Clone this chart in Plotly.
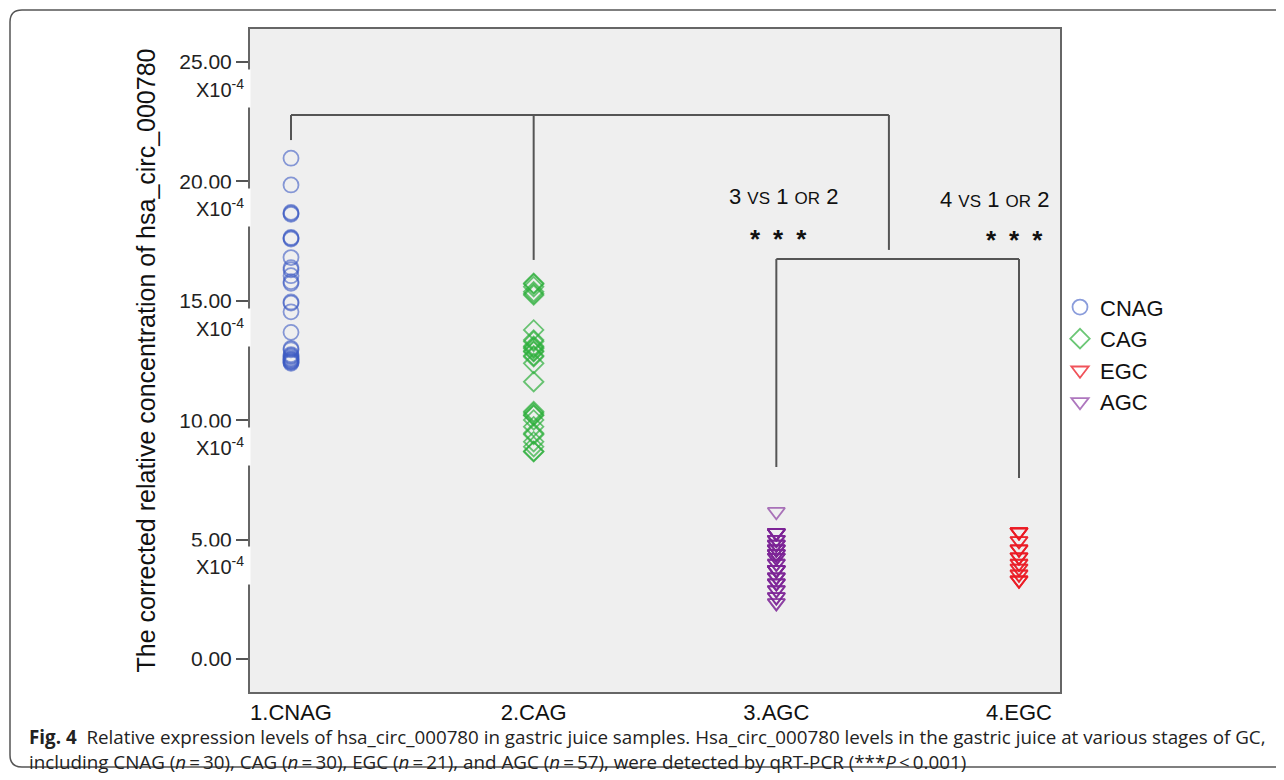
import plotly.graph_objects as go

# ---------------- data ----------------
groups = ["CNAG", "CAG", "EGC", "AGC"]
group_pos = {"CNAG": 1, "CAG": 2, "AGC": 3, "EGC": 4}
tick_labels = ["1.CNAG", "2.CAG", "3.AGC", "4.EGC"]

cnag = [20.97, 19.85, 18.70, 18.62, 18.66, 17.65, 17.58, 17.62, 16.81, 16.39,
        16.30, 16.05, 15.73, 15.80, 14.90, 14.95, 14.54, 13.68, 13.01, 12.95,
        12.66, 12.70, 12.52, 12.45, 12.38, 12.60, 12.55, 12.48, 12.42, 12.75]
cag = [15.73, 15.59, 15.38, 15.24, 15.70, 15.30,
       13.78, 13.36, 13.05, 12.87, 12.66, 12.38, 11.61, 13.30, 13.00, 12.90, 12.70, 13.10,
       10.36, 10.22, 10.01, 9.73, 9.45, 9.10, 8.89, 8.68, 10.30, 10.20, 9.40, 8.70]
agc = [6.17,
       5.28, 5.28, 5.28, 5.28, 5.28, 5.28, 5.28, 5.28,
       5.00, 5.00, 5.00, 5.00,
       4.80, 4.80, 4.80, 4.80,
       4.60, 4.60, 4.60, 4.60, 4.60,
       4.40, 4.40, 4.40, 4.40, 4.40,
       4.25, 4.25, 4.25, 4.25,
       4.00, 4.00, 4.00,
       3.73, 3.73, 3.73, 3.73, 3.73, 3.73, 3.73,
       3.43, 3.43, 3.43, 3.43,
       3.18, 3.18, 3.18, 3.18,
       2.89, 2.89, 2.89,
       2.60, 2.60, 2.60,
       2.35, 2.35]
egc = [5.32, 5.32, 5.32, 5.32, 4.95, 4.95, 4.60, 4.60, 4.60, 4.27,
       4.27, 4.27, 4.00, 4.00, 3.80, 3.80, 3.55, 3.55, 3.30, 3.30, 3.30]
values = {"CNAG": cnag, "CAG": cag, "EGC": egc, "AGC": agc}

y_tick_vals = [0, 5, 10, 15, 20, 25]
y_tick_text = ["0.00", "5.00", "10.00", "15.00", "20.00", "25.00"]

# ---------------- styles ----------------
symbols = {"CNAG": "circle-open", "CAG": "diamond-open",
           "EGC": "triangle-down-open", "AGC": "triangle-down-open"}
colors = {"CNAG": "rgba(60,90,195,0.6)", "CAG": "rgba(45,175,60,0.7)",
          "EGC": "rgba(235,25,35,0.75)", "AGC": "rgba(125,35,150,0.62)"}
sizes = {"CNAG": 15, "CAG": 15, "EGC": 15, "AGC": 15}

FONT = "Liberation Sans, Arial, sans-serif"

fig = go.Figure()
for g in groups:
    fig.add_trace(go.Scatter(
        x=[group_pos[g]] * len(values[g]), y=values[g], mode="markers", name=g,
        marker=dict(symbol=symbols[g], size=sizes[g],
                    color=colors[g], line=dict(color=colors[g], width=1.8)),
    ))

# ---------------- brackets ----------------
line_style = dict(color="#555555", width=2)
top_y = 22.78
mid_x = 3.464
low_y = 16.75
bracket_segments = [
    (1, top_y, mid_x, top_y),
    (1, top_y, 1, 21.73),
    (2, top_y, 2, 16.71),
    (mid_x, top_y, mid_x, 17.13),
    (3, low_y, 4, low_y),
    (3, low_y, 3, 8.04),
    (4, low_y, 4, 7.58),
]
for x0, y0, x1, y1 in bracket_segments:
    fig.add_shape(type="line", xref="x", yref="y", x0=x0, y0=y0, x1=x1, y1=y1,
                  line=line_style, layer="above")

sc = "<span style='font-size:17px'>"
fig.add_annotation(x=3.03, y=19.35, xref="x", yref="y", showarrow=False,
                   text=f"3 {sc}VS</span> 1 {sc}OR</span> 2",
                   font=dict(family=FONT, size=22, color="#111"))
fig.add_annotation(x=3.90, y=19.25, xref="x", yref="y", showarrow=False,
                   text=f"4 {sc}VS</span> 1 {sc}OR</span> 2",
                   font=dict(family=FONT, size=22, color="#111"))
fig.add_annotation(x=3.008, y=17.6, xref="x", yref="y", showarrow=False,
                   text="<b>*\u2002*\u2002*</b>", font=dict(family=FONT, size=26, color="#111"))
fig.add_annotation(x=3.98, y=17.55, xref="x", yref="y", showarrow=False,
                   text="<b>*\u2002*\u2002*</b>", font=dict(family=FONT, size=26, color="#111"))

# X10^-4 under tick labels
for v in y_tick_vals[1:]:
    fig.add_annotation(x=0, xref="paper", xanchor="right", xshift=1,
                       y=v - 1.1, yref="y", showarrow=False,
                       text="X10<sup>-4</sup>", bgcolor="white", borderpad=6,
                       font=dict(family=FONT, size=20, color="#222"))

# caption
ts = "\u2009=\u2009"
fig.add_annotation(x=-0.2753, y=-0.0679, xref="paper", yref="paper", xanchor="left",
                   yanchor="middle", showarrow=False, align="left",
                   text="<b>Fig. 4</b>  Relative expression levels of hsa_circ_000780 in gastric juice samples. "
                        "Hsa_circ_000780 levels in the gastric juice at various stages of GC,",
                   font=dict(family="Open Sans", size=18.8, color="#222"))
fig.add_annotation(x=-0.2753, y=-0.1056, xref="paper", yref="paper", xanchor="left",
                   yanchor="middle", showarrow=False, align="left",
                   text=f"including CNAG (<i>n</i>{ts}30), CAG (<i>n</i>{ts}30), EGC (<i>n</i>{ts}21), "
                        f"and AGC (<i>n</i>{ts}57), were detected by qRT-PCR (***<i>P</i>\u2009&lt;\u20090.001)",
                   font=dict(family="Open Sans", size=18.8, color="#222"))

# outer rounded frame
x0, x1 = -0.2963, 1.30
y0, y1 = -0.1131, 1.0287
rx, ry = 0.0148, 0.0181
path = (f"M {x1},{y1} L {x0+rx},{y1} Q {x0},{y1} {x0},{y1-ry} "
        f"L {x0},{y0+ry} Q {x0},{y0} {x0+rx},{y0} L {x1},{y0}")
fig.add_shape(type="path", xref="paper", yref="paper", path=path,
              line=dict(color="#555555", width=1.5), layer="below")

fig.update_layout(
    width=1284, height=780,
    margin=dict(l=242, r=232, t=21, b=96),
    paper_bgcolor="white", plot_bgcolor="#efefef",
    font=dict(family=FONT, color="#111"),
    showlegend=True,
    legend=dict(x=1.0, y=0.612, xanchor="left", yanchor="top",
                font=dict(family=FONT, size=22, color="#111"),
                itemwidth=30, tracegroupgap=0, bgcolor="rgba(0,0,0,0)"),
)
fig.update_xaxes(range=[0.831, 4.169], tickvals=[1, 2, 3, 4], ticktext=tick_labels,
                 showgrid=False, zeroline=False, showline=True, mirror=True,
                 linecolor="#666", linewidth=2, ticks="",
                 tickfont=dict(family=FONT, size=22, color="#111"))
fig.update_yaxes(range=[-1.38, 26.38], tickvals=y_tick_vals, ticktext=y_tick_text,
                 showgrid=False, zeroline=False, showline=True, mirror=True,
                 linecolor="#666", linewidth=2, ticks="outside", ticklen=12,
                 tickwidth=2, tickcolor="#555",
                 tickfont=dict(family=FONT, size=21, color="#222"),
                 title=dict(text="The corrected relative concentration of hsa_circ_000780",
                            font=dict(family=FONT, size=25, color="#111"), standoff=16))

fig.write_html("out.html")
